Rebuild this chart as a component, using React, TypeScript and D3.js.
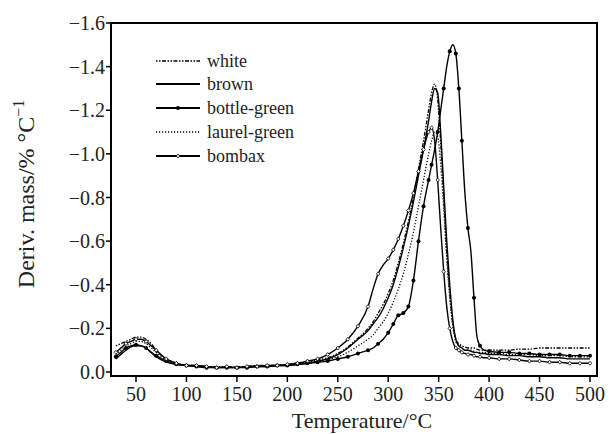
import React from "react";
import * as d3 from "d3";

const temps = [30,35,40,45,50,55,60,65,70,80,90,100,110,120,130,140,150,160,170,180,190,200,210,220,230,240,250,260,270,280,285,290,295,300,305,310,315,320,325,330,335,340,343,346,349,352,355,358,361,364,367,370,373,376,379,382,385,388,391,395,400,410,420,430,440,450,460,470,480,490,500];

const white = [-0.12,-0.13,-0.14,-0.15,-0.16,-0.16,-0.15,-0.13,-0.10,-0.06,-0.04,-0.03,-0.03,-0.025,-0.025,-0.02,-0.025,-0.025,-0.03,-0.03,-0.03,-0.035,-0.04,-0.045,-0.055,-0.065,-0.085,-0.115,-0.155,-0.20,-0.23,-0.27,-0.31,-0.36,-0.42,-0.50,-0.59,-0.69,-0.80,-0.93,-1.06,-1.20,-1.28,-1.32,-1.25,-1.05,-0.80,-0.55,-0.36,-0.22,-0.15,-0.13,-0.12,-0.115,-0.11,-0.11,-0.11,-0.105,-0.10,-0.10,-0.10,-0.10,-0.10,-0.105,-0.105,-0.11,-0.11,-0.11,-0.11,-0.11,-0.11];

const brown = [-0.06,-0.08,-0.10,-0.115,-0.12,-0.12,-0.11,-0.09,-0.07,-0.045,-0.035,-0.03,-0.025,-0.025,-0.02,-0.02,-0.02,-0.025,-0.025,-0.025,-0.03,-0.03,-0.035,-0.04,-0.05,-0.06,-0.08,-0.11,-0.15,-0.19,-0.22,-0.25,-0.29,-0.34,-0.40,-0.48,-0.57,-0.67,-0.78,-0.90,-1.02,-1.15,-1.24,-1.30,-1.28,-1.10,-0.85,-0.60,-0.40,-0.24,-0.15,-0.12,-0.11,-0.10,-0.10,-0.095,-0.09,-0.09,-0.085,-0.085,-0.08,-0.08,-0.075,-0.075,-0.07,-0.07,-0.065,-0.065,-0.06,-0.06,-0.06];

const bottleGreen = [-0.07,-0.09,-0.11,-0.12,-0.125,-0.12,-0.11,-0.09,-0.075,-0.05,-0.035,-0.03,-0.025,-0.02,-0.02,-0.02,-0.02,-0.02,-0.025,-0.025,-0.03,-0.03,-0.035,-0.04,-0.045,-0.05,-0.06,-0.07,-0.085,-0.10,-0.11,-0.13,-0.15,-0.18,-0.22,-0.26,-0.27,-0.30,-0.42,-0.60,-0.76,-0.88,-0.95,-1.02,-1.10,-1.20,-1.30,-1.40,-1.47,-1.50,-1.46,-1.30,-1.06,-0.82,-0.66,-0.55,-0.34,-0.16,-0.12,-0.10,-0.095,-0.09,-0.09,-0.085,-0.085,-0.08,-0.08,-0.08,-0.075,-0.075,-0.075];

const laurelGreen = [-0.08,-0.10,-0.12,-0.13,-0.14,-0.14,-0.13,-0.11,-0.09,-0.055,-0.04,-0.03,-0.03,-0.025,-0.025,-0.025,-0.02,-0.025,-0.025,-0.03,-0.03,-0.03,-0.035,-0.04,-0.045,-0.055,-0.07,-0.09,-0.12,-0.15,-0.17,-0.20,-0.23,-0.27,-0.32,-0.38,-0.45,-0.54,-0.64,-0.76,-0.88,-1.00,-1.06,-1.10,-1.08,-0.95,-0.75,-0.52,-0.34,-0.21,-0.14,-0.12,-0.11,-0.10,-0.10,-0.10,-0.095,-0.09,-0.09,-0.09,-0.085,-0.085,-0.08,-0.08,-0.08,-0.075,-0.075,-0.075,-0.07,-0.07,-0.07];

const bombax = [-0.09,-0.11,-0.13,-0.14,-0.15,-0.15,-0.14,-0.12,-0.10,-0.06,-0.04,-0.03,-0.03,-0.025,-0.02,-0.025,-0.02,-0.025,-0.025,-0.03,-0.03,-0.035,-0.04,-0.05,-0.06,-0.08,-0.11,-0.15,-0.21,-0.30,-0.38,-0.45,-0.49,-0.52,-0.56,-0.61,-0.67,-0.74,-0.82,-0.92,-1.02,-1.10,-1.12,-1.06,-0.88,-0.66,-0.46,-0.30,-0.20,-0.14,-0.11,-0.10,-0.09,-0.085,-0.08,-0.08,-0.075,-0.07,-0.07,-0.065,-0.065,-0.06,-0.06,-0.055,-0.05,-0.05,-0.045,-0.045,-0.04,-0.04,-0.04];

const seriesNames = ["white", "brown", "bottle-green", "laurel-green", "bombax"];
const seriesValues = [white, brown, bottleGreen, laurelGreen, bombax];
const seriesDash = ["1.5,1.5,1.5,1.5,4,1.5", "", "", "1.2,1.8", ""];
const seriesMarker = ["none", "none", "dot", "none", "diamond"];

const xTicks = [50,100,150,200,250,300,350,400,450,500];
const yTicks = [0,-0.2,-0.4,-0.6,-0.8,-1.0,-1.2,-1.4,-1.6];

const W = 611, H = 434;
const left = 111, right = 597, top = 23, bottom = 376;
const FONT = "'Liberation Serif', 'DejaVu Serif', serif";

export default function App() {
  const x = d3.scaleLinear().domain([50, 500]).range([136, 590]);
  const y = d3.scaleLinear().domain([0, -1.6]).range([372, 23]);
  const fmtY = (v: number) => (v === 0 ? "0.0" : "\u2212" + Math.abs(v).toFixed(1));

  const line = d3
    .line<number>()
    .x((_, i) => x(temps[i]))
    .y((d) => y(d))
    .curve(d3.curveMonotoneX);

  const legendRows = [61, 84, 108, 132, 156];

  const renderMarker = (type: string, cx: number, cy: number, key: string) => {
    if (type === "dot")
      return <circle key={key} cx={cx} cy={cy} r={2} fill="#000" />;
    if (type === "diamond")
      return (
        <path
          key={key}
          d={`M${cx},${cy - 2}L${cx + 1.7},${cy}L${cx},${cy + 2}L${cx - 1.7},${cy}Z`}
          fill="#fff"
          stroke="#000"
          strokeWidth={0.8}
        />
      );
    return null;
  };

  return (
    <svg width={W} height={H} style={{ display: "block", position: "absolute", left: 0, top: 0, background: "#fff" }} fontFamily={FONT}>
      <rect x={0} y={0} width={W} height={H} fill="#fff" />
      <defs>
        <clipPath id="plot">
          <rect x={left} y={top} width={right - left} height={bottom - top} />
        </clipPath>
      </defs>
      <g clipPath="url(#plot)">
        {seriesValues.map((vals, si) => (
          <g key={si}>
            <path
              d={line(vals) || ""}
              fill="none"
              stroke="#000"
              strokeWidth={seriesDash[si] ? 1.3 : 1.4}
              strokeDasharray={seriesDash[si] || undefined}
            />
            {seriesMarker[si] !== "none" &&
              vals.map((v, i) =>
                temps[i] % 10 === 0 || (temps[i] > 300 && temps[i] < 400 && i % 2 === 0)
                  ? renderMarker(seriesMarker[si], x(temps[i]), y(v), `${si}-${i}`)
                  : null
              )}
          </g>
        ))}
      </g>
      <rect x={left} y={top} width={right - left} height={bottom - top} fill="none" stroke="#000" strokeWidth={2} />
      {yTicks.map((t) => (
        <g key={t}>
          <line x1={left - 5} x2={left} y1={y(t)} y2={y(t)} stroke="#000" strokeWidth={1.5} />
          <text x={left - 6} y={y(t)} dy="0.35em" textAnchor="end" fontSize={20} fill="#222">
            {fmtY(t)}
          </text>
        </g>
      ))}
      {xTicks.map((t) => (
        <g key={t}>
          <line x1={x(t)} x2={x(t)} y1={bottom} y2={bottom + 6} stroke="#000" strokeWidth={1.5} />
          <text x={x(t)} y={bottom + 25} textAnchor="middle" fontSize={20} fill="#222">
            {t}
          </text>
        </g>
      ))}
      <text x={362} y={428} textAnchor="middle" fontSize={22} fill="#222">
        Temperature/°C
      </text>
      <text transform="translate(34,194) rotate(-90)" textAnchor="middle" fontSize={24} fill="#222">
        Deriv. mass/% °C
        <tspan dy={-10} fontSize={16}>{"\u22121"}</tspan>
      </text>
      {seriesNames.map((name, si) => {
        const ly = legendRows[si];
        return (
          <g key={name}>
            <line
              x1={156}
              x2={200}
              y1={ly}
              y2={ly}
              stroke="#000"
              strokeWidth={seriesDash[si] ? 1.3 : 1.8}
              strokeDasharray={seriesDash[si] || undefined}
            />
            {seriesMarker[si] !== "none" && renderMarker(seriesMarker[si], 178, ly, `lg${si}`)}
            <text x={207} y={ly} dy="0.32em" fontSize={18} fill="#222">
              {name}
            </text>
          </g>
        );
      })}
    </svg>
  );
}
